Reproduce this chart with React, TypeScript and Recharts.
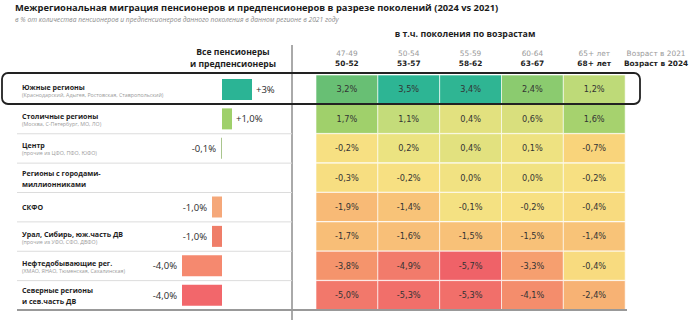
import { BarChart, Bar, XAxis, YAxis, Cell, LabelList } from 'recharts';

const FONT = '"Open Sans", Roboto, sans-serif';
const NUM_FONT = '"DejaVu Sans", "Open Sans", sans-serif';

// regions: bold lines + small grey note
const regionLines = [
  ['Южные регионы'],
  ['Столичные регионы'],
  ['Центр'],
  ['Регионы с городами-', 'миллионниками'],
  ['СКФО'],
  ['Урал, Сибирь, юж.часть ДВ'],
  ['Нефтедобывающие рег.'],
  ['Северные регионы', 'и сев.часть ДВ'],
];
const regionNotes = [
  '(Краснодарский, Адыгея, Ростовская, Ставропольский)',
  '(Москва, С-Петербург, МО, ЛО)',
  '(прочие из ЦФО, ПФО, ЮФО)',
  '',
  '',
  '(прочие из УФО, СФО, ДВФО)',
  '(ХМАО, ЯНАО, Тюменская, Сахалинская)',
  '',
];

// all pensioners & pre-pensioners, %
const totals = [3, 1.0, -0.1, 0.0, -1.0, -1.0, -4.0, -4.0];
const totalLabels = ['+3%', '+1,0%', '-0,1%', '0,0%', '-1,0%', '-1,0%', '-4,0%', '-4,0%'];
const totalColors = ['#2bb495', '#9fd06b', '#a9c58e', '#cccccc', '#f5a87a', '#ef7e69', '#f5896f', '#f2676b'];

// generations: age in 2021 / age in 2024
const ages2021 = ['47-49', '50-54', '55-59', '60-64', '65+ лет', 'Возраст в 2021'];
const ages2024 = ['50-52', '53-57', '58-62', '63-67', '68+ лет', 'Возраст в 2024'];

const gen47 = [3.2, 1.7, -0.2, -0.3, -1.9, -1.7, -3.8, -5.0];
const gen50 = [3.5, 1.1, 0.2, -0.2, -1.4, -1.6, -4.9, -5.3];
const gen55 = [3.4, 0.4, 0.4, 0.0, -0.1, -1.5, -5.7, -5.3];
const gen60 = [2.4, 0.6, 0.1, 0.0, -0.2, -1.5, -3.3, -4.1];
const gen65 = [1.2, 1.6, -0.7, -0.2, -0.4, -1.4, -0.4, -2.4];
const genSeries = [gen47, gen50, gen55, gen60, gen65];

const totalData = regionLines.map((r, i) => ({ region: r[0], total: totals[i], label: totalLabels[i] }));
const heatData = regionLines.map((r, i) => {
  const row: Record<string, string | number> = { region: r[0] };
  genSeries.forEach((s, k) => { row['g' + k] = s[i]; });
  return row;
});

const stops: [number, string][] = [
  [-5.7, '#ef6268'], [-4.9, '#f27b6b'], [-3.8, '#f5946c'], [-2.4, '#f7b274'], [-1.5, '#f8c178'],
  [-0.7, '#f9d47b'], [-0.2, '#f7e082'], [0.2, '#ebe381'], [0.6, '#d9df7d'], [1.1, '#c4dc7a'],
  [1.7, '#a0d06b'], [2.4, '#8bcb6f'], [3.2, '#68bf74'], [3.4, '#2fb593'], [3.6, '#2bb495'],
];
const hex = (c: string) => [1, 3, 5].map((p) => parseInt(c.slice(p, p + 2), 16));
function heatColor(v: number) {
  if (v <= stops[0][0]) return stops[0][1];
  for (let i = 1; i < stops.length; i++) {
    if (v <= stops[i][0]) {
      const [a, ca] = stops[i - 1];
      const [b, cb] = stops[i];
      const t = (v - a) / (b - a);
      const x = hex(ca), y = hex(cb);
      return `rgb(${x.map((n, j) => Math.round(n + (y[j] - n) * t)).join(',')})`;
    }
  }
  return stops[stops.length - 1][1];
}
const fmt = (v: number) => v.toFixed(1).replace('.', ',') + '%';

const TOP = 75;
const BOTTOM = 310;
const ROW = (BOTTOM - TOP) / regionLines.length;

function RegionTick(props: any) {
  const i = regionLines.findIndex((r) => r[0] === props.payload.value);
  const lines = regionLines[i];
  const note = regionNotes[i];
  const y = props.y;
  if (lines.length === 2) {
    return (
      <g fontFamily={FONT} fontWeight={700} fontSize={7.1} fill="#1e1e1e">
        <text x={22} y={y - 5} dominantBaseline="central">{lines[0]}</text>
        <text x={22} y={y + 6} dominantBaseline="central">{lines[1]}</text>
      </g>
    );
  }
  return (
    <g fontFamily={FONT}>
      <text x={22} y={note ? y - 3 : y} dominantBaseline="central" fontWeight={700} fontSize={7.1} fill="#1e1e1e">{lines[0]}</text>
      {note && <text x={22} y={y + 5} dominantBaseline="central" fontSize={5.3} fill="#9a9a9a">{note}</text>}
    </g>
  );
}

function TotalLabel(props: any) {
  const { x, y, width, height, value } = props;
  const x1 = Math.min(x, x + width);
  const x2 = Math.max(x, x + width);
  const neg = String(value).startsWith('-');
  return (
    <text x={neg ? x1 - 5 : x2 + 4} y={y + height / 2} textAnchor={neg ? 'end' : 'start'} dominantBaseline="central"
      fontFamily={FONT} fontSize={9.5} fill="#2a2a2a">{value}</text>
  );
}

function AgeTick(props: any) {
  const i = Math.floor(props.payload.value);
  return (
    <g fontFamily={NUM_FONT} textAnchor="middle">
      <text x={props.x} y={53} dominantBaseline="central" fontSize={7.4} fill="#9a9a9a">{ages2021[i]}</text>
      <text x={props.x} y={63} dominantBaseline="central" fontSize={7.4} fontWeight={700} fill="#1e1e1e">{ages2024[i]}</text>
    </g>
  );
}

export default function App() {
  const seps = regionLines.slice(1).map((_, i) => TOP + ROW * (i + 1));
  return (
    <div style={{ position: 'relative', width: 700, height: 333, background: '#fff', fontFamily: FONT }}>
      <style>{'body{margin:0}'}</style>
      <div style={{ position: 'absolute', left: 0, top: 0 }}>
        <BarChart width={700} height={333} data={heatData} layout="vertical" barCategoryGap={0}
          margin={{ top: 45, right: 13, bottom: 23, left: 316 }}>
          <XAxis type="number" orientation="top" domain={[0, 6]} ticks={[0.5, 1.5, 2.5, 3.5, 4.5, 5.5]}
            height={30} axisLine={false} tickLine={false} tick={<AgeTick />} interval={0} />
          <YAxis type="category" dataKey="region" hide />
          {genSeries.map((_, k) => (
            <Bar key={k} dataKey={() => 1} stackId="h" isAnimationActive={false}>
              {heatData.map((d, i) => (
                <Cell key={i} fill={heatColor(d['g' + k] as number)} stroke="#ffffff" strokeOpacity={0.6} strokeWidth={1} />
              ))}
              <LabelList dataKey={'g' + k} position="center" formatter={(v: any) => fmt(Number(v))}
                style={{ fontFamily: NUM_FONT, fontSize: 8.2, fill: '#333' }} />
            </Bar>
          ))}
        </BarChart>
      </div>
      <div style={{ position: 'absolute', left: 0, top: 0 }}>
        <BarChart width={300} height={333} data={totalData} layout="vertical"
          margin={{ top: TOP, right: 28, bottom: 333 - BOTTOM, left: 22 }}>
          <XAxis type="number" domain={[-5, 5]} hide />
          <YAxis type="category" dataKey="region" width={150} axisLine={false} tickLine={false}
            tick={<RegionTick />} interval={0} />
          <Bar dataKey="total" barSize={21} isAnimationActive={false}>
            {totalData.map((_, i) => <Cell key={i} fill={totalColors[i]} />)}
            <LabelList dataKey="label" content={<TotalLabel />} />
          </Bar>
        </BarChart>
      </div>
      <svg width={700} height={333} style={{ position: 'absolute', left: 0, top: 0, pointerEvents: 'none' }}>
        <text x={15} y={11} fontFamily={FONT} fontWeight={700} fontSize={9.35} fill="#1a1a1a">
          Межрегиональная миграция пенсионеров и предпенсионеров в разрезе поколений (2024 vs 2021)
        </text>
        <text x={15} y={22} fontFamily={FONT} fontStyle="italic" fontSize={6.7} fill="#8a8a8a">
          в % от количества пенсионеров и предпенсионеров данного поколения в данном регионе в 2021 году
        </text>
        <text x={465} y={37} textAnchor="middle" fontFamily={FONT} fontWeight={700} fontSize={8.8} fill="#1e1e1e">
          в т.ч. поколения по возрастам
        </text>
        <text x={233} y={52} textAnchor="middle" dominantBaseline="central" fontFamily={FONT} fontWeight={700} fontSize={8.6} fill="#1e1e1e">Все пенсионеры</text>
        <text x={233} y={63.5} textAnchor="middle" dominantBaseline="central" fontFamily={FONT} fontWeight={700} fontSize={8.6} fill="#1e1e1e">и предпенсионеры</text>
        <line x1={292} x2={292} y1={45} y2={320} stroke="#555" strokeWidth={1} />
        {seps.map((y) => <line key={y} x1={17} x2={292} y1={y} y2={y} stroke="#dcdcdc" strokeWidth={1} />)}
        <line x1={17} x2={627} y1={BOTTOM} y2={BOTTOM} stroke="#999" strokeWidth={2} />
        <rect x={2} y={73} width={638} height={31} rx={6} fill="none" stroke="#222" strokeWidth={1.8} />
      </svg>
    </div>
  );
}
